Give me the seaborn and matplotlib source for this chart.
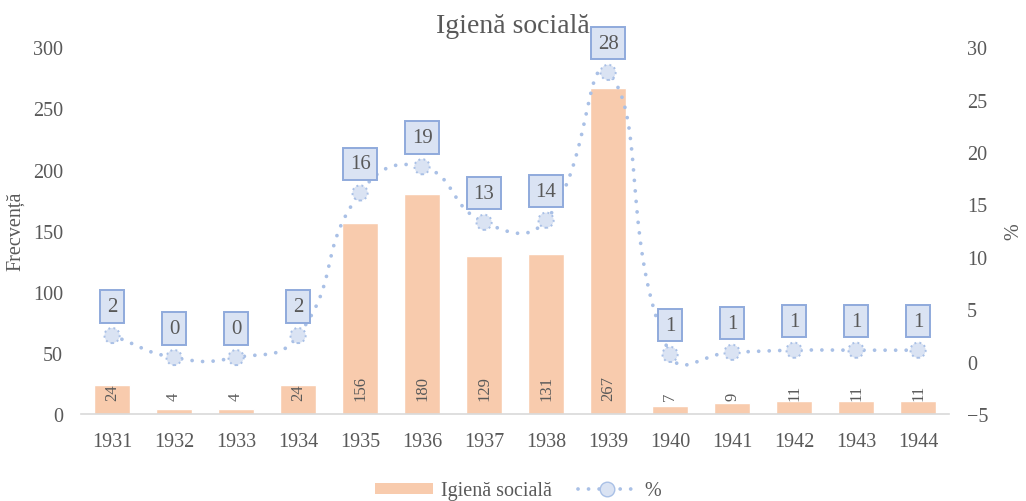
import numpy as np
import pandas as pd
import matplotlib.pyplot as plt
import seaborn as sns
from matplotlib.patches import Patch
from matplotlib.lines import Line2D

years = ["1931", "1932", "1933", "1934", "1935", "1936", "1937",
         "1938", "1939", "1940", "1941", "1942", "1943", "1944"]
freq = [24, 4, 4, 24, 156, 180, 129, 131, 267, 7, 9, 11, 11, 11]
pct = [2.5, 0.4, 0.4, 2.5, 16.1, 18.6, 13.3, 13.5, 27.6, 0.7, 0.9, 1.1, 1.1, 1.1]
pct_labels = [2, 0, 0, 2, 16, 19, 13, 14, 28, 1, 1, 1, 1, 1]

BAR = "#f8cbad"
LINE = "#a9c0e6"
FILL = "#dae3f3"
EDGE = "#8faadc"
GREY = "#595959"

sns.set_theme(style="white")
plt.rcParams["font.family"] = ["Liberation Serif", "DejaVu Serif"]
plt.rcParams["text.color"] = GREY

fig = plt.figure(figsize=(10.26, 5.02), dpi=100)
ax = fig.add_axes([0.079, 0.173, 0.846, 0.731])
ax2 = ax.twinx()

df = pd.DataFrame({"An": years, "Frecventa": freq})
sns.barplot(data=df, x="An", y="Frecventa", color=BAR, saturation=1,
            width=0.58, ax=ax, zorder=2)
ax.set_ylim(0, 300)
ax.set_yticks(range(0, 301, 50))
ax.set_xlim(-0.5, len(years) - 0.5)
ax2.set_ylim(-5, 30)
ax2.set_yticks(range(-5, 31, 5))

# bar labels, rotated, near the base
for i, v in enumerate(freq):
    ax.annotate(str(v), (i, 0), xytext=(0, 10.5), textcoords="offset points",
                rotation=90, ha="center", va="bottom", fontsize=12, color=GREY)

# smoothed line (Excel-like bezier smoothing, computed in display space)
disp = ax2.transData.transform(np.column_stack([np.arange(len(pct)), pct]))
n = len(disp)
t = 0.5
curve = [disp[0]]
for i in range(n - 1):
    p0 = disp[max(i - 1, 0)]
    p1 = disp[i]
    p2 = disp[i + 1]
    p3 = disp[min(i + 2, n - 1)]
    d01 = np.linalg.norm(p1 - p0)
    d12 = np.linalg.norm(p2 - p1)
    d23 = np.linalg.norm(p3 - p2)
    c1 = p1 + (p2 - p0) * t * d12 / (d01 + d12)
    c2 = p2 - (p3 - p1) * t * d12 / (d12 + d23)
    for s in np.linspace(0, 1, 40)[1:]:
        b = ((1 - s) ** 3) * p1 + 3 * (1 - s) ** 2 * s * c1 + 3 * (1 - s) * s ** 2 * c2 + s ** 3 * p2
        curve.append(b)
curve = ax2.transData.inverted().transform(np.array(curve))
ax2.plot(curve[:, 0], curve[:, 1], color=LINE, lw=2.7,
         linestyle=(0, (0.01, 2.8)), dash_capstyle="round", zorder=3)

sns.scatterplot(x=np.arange(len(pct)), y=pct, ax=ax2, s=120, color=FILL,
                edgecolor=LINE, linewidth=1.4, linestyle=":", zorder=4, legend=False)

for i, (v, lbl) in enumerate(zip(pct, pct_labels)):
    ax2.annotate(str(lbl), (i, v), xytext=(0, 21), textcoords="offset points",
                 ha="center", va="center", fontsize=15, color=GREY, zorder=5,
                 bbox=dict(boxstyle="square,pad=0.32", fc=FILL, ec=EDGE, lw=1.4))

for a in (ax, ax2):
    for sp in a.spines.values():
        sp.set_visible(False)
    a.tick_params(length=0, labelsize=14.5, labelcolor=GREY, pad=13)
ax.spines["bottom"].set_visible(True)
ax.spines["bottom"].set_color("#d9d9d9")
ax.spines["bottom"].set_linewidth(1.2)
ax.tick_params(axis="x", pad=13)

ax.set_xlabel("")
ax.set_ylabel("Frecvență", fontsize=14.5, color=GREY)
ax.yaxis.set_label_coords(-0.064, 0.5)
ax2.set_ylabel("%", fontsize=14.5, color=GREY)
ax2.yaxis.set_label_coords(1.064, 0.5)

fig.text(0.5, 0.948, "Igienă socială", ha="center", va="center",
         fontsize=20, color=GREY)

handles = [
    Patch(facecolor=BAR, edgecolor="none"),
    Line2D([], [], color=LINE, lw=2.7, linestyle=(0, (0.01, 2.8)),
           dash_capstyle="round", marker="o", markersize=10.5,
           markerfacecolor=FILL, markeredgecolor=LINE, markeredgewidth=1.0),
]
fig.legend(handles, ["Igienă socială", "%"], loc="lower center",
           bbox_to_anchor=(0.505, -0.035), ncol=2, frameon=False,
           fontsize=14.5, handlelength=2.9, handleheight=0.5,
           handletextpad=0.4, columnspacing=1.3, numpoints=1)

fig.savefig("out.png", dpi=100)
